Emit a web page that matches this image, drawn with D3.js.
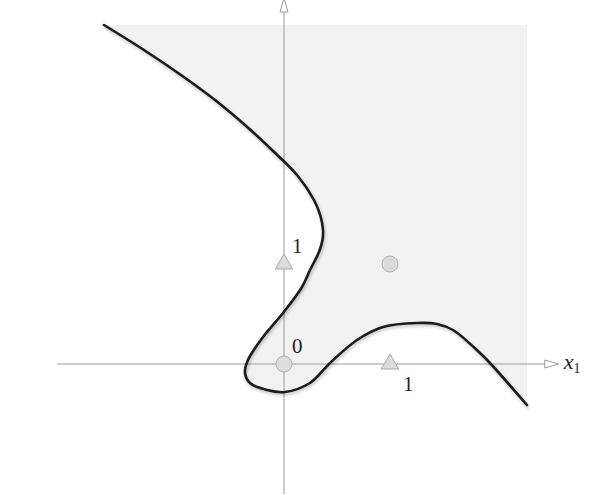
<!DOCTYPE html>
<html>
<head>
<meta charset="utf-8">
<script src="https://cdn.jsdelivr.net/npm/d3@7"></script>
<style>
html,body{margin:0;padding:0;background:#fff;}
svg{display:block;}
</style>
</head>
<body>
<svg id="chart" width="605" height="495"></svg>
<script>
// Decision boundary (data coordinates x1, x2)
const boundaryX = [-1.698,-1.321,-0.972,-0.651,-0.368,-0.113,0.123,0.283,0.344,0.368,0.363,0.330,0.245,0.170,-0.009,-0.198,-0.340,-0.368,-0.321,-0.160,0.009,0.245,0.434,0.689,0.934,1.255,1.443,1.594,1.849,1.943,2.292];
const boundaryY = [3.39,3.14,2.89,2.64,2.39,2.14,1.89,1.64,1.48,1.34,1.24,1.12,0.94,0.77,0.51,0.27,0.04,-0.09,-0.19,-0.26,-0.28,-0.19,0.01,0.24,0.37,0.41,0.40,0.34,0.11,0.01,-0.41];
// Class 0 points (circles) and class 1 points (triangles)
const circleX = [0, 1];
const circleY = [0, 1];
const triangleX = [0, 1];
const triangleY = [1, 0];
// Tick labels
const tickLabels = [
  {text: "0", x: 0, y: 0, dx: 8, dy: -11},
  {text: "1", x: 0, y: 1, dx: 8, dy: -11},
  {text: "1", x: 1, y: 0, dx: 13, dy: 27}
];
// Region / axis extents
const regionTop = 3.39, regionRight = 2.292;
const xAxisExtent = [-2.14, 2.46];
const yAxisExtent = [-1.30, 3.52];

const svg = d3.select("#chart");
const x = d3.scaleLinear().domain([0, 1]).range([284, 390]);
const y = d3.scaleLinear().domain([0, 1]).range([364, 264]);

const defs = svg.append("defs");
const f = defs.append("filter").attr("id","shadow").attr("x","-20%").attr("y","-20%").attr("width","140%").attr("height","140%");
f.append("feDropShadow").attr("dx",1).attr("dy",2).attr("stdDeviation",1.5).attr("flood-color","#000").attr("flood-opacity",0.25);

const pts = boundaryX.map((v,i)=>[v, boundaryY[i]]);
const line = d3.line().x(d=>x(d[0])).y(d=>y(d[1])).curve(d3.curveCatmullRom.alpha(0.5));

// Shaded region: boundary + top-right corner
const regionPath = line(pts) + `L${x(regionRight)},${y(regionTop)}Z`;
svg.append("path").attr("d", regionPath).attr("fill", "#f2f2f2").attr("stroke","none");

// Axes
const axisColor = "#9a9a9a";
svg.append("line").attr("x1", x(xAxisExtent[0])).attr("x2", x(xAxisExtent[1]))
  .attr("y1", y(0)).attr("y2", y(0)).attr("stroke", axisColor).attr("stroke-width", 1);
svg.append("line").attr("x1", x(0)).attr("x2", x(0))
  .attr("y1", y(yAxisExtent[0])).attr("y2", y(yAxisExtent[1])).attr("stroke", axisColor).attr("stroke-width", 1);
// arrowheads
const ax = x(xAxisExtent[1]), ay = y(0);
svg.append("path").attr("d", `M${ax},${ay-4}L${ax+14},${ay}L${ax},${ay+4}Z`)
  .attr("fill","#fff").attr("stroke",axisColor).attr("stroke-width",1);
const bx = x(0), by = y(yAxisExtent[1]);
svg.append("path").attr("d", `M${bx-4},${by}L${bx},${by-14}L${bx+4},${by}Z`)
  .attr("fill","#fff").attr("stroke",axisColor).attr("stroke-width",1);

// Boundary curve
svg.append("path").attr("d", line(pts)).attr("fill","none")
  .attr("stroke","#1a1a1a").attr("stroke-width",2.6).attr("stroke-linecap","round")
  .attr("filter","url(#shadow)");

// Points
svg.selectAll("circle.pt").data(circleX.map((v,i)=>[v,circleY[i]])).enter()
  .append("circle").attr("class","pt")
  .attr("cx", d=>x(d[0])).attr("cy", d=>y(d[1])).attr("r", 8)
  .attr("fill","#dcdcdc").attr("stroke","#b0b0b0").attr("stroke-width",1);
const tri = d3.symbol().type(d3.symbolTriangle).size(130);
svg.selectAll("path.tri").data(triangleX.map((v,i)=>[v,triangleY[i]])).enter()
  .append("path").attr("class","tri")
  .attr("d", tri).attr("transform", d=>`translate(${x(d[0])},${y(d[1])})`)
  .attr("fill","#dcdcdc").attr("stroke","#a8a8a8").attr("stroke-width",1);

// Tick labels
svg.selectAll("text.tick").data(tickLabels).enter().append("text").attr("class","tick")
  .attr("x", d=>x(d.x)+d.dx).attr("y", d=>y(d.y)+d.dy)
  .attr("font-family","'Liberation Serif', 'DejaVu Serif', serif").attr("font-size",21)
  .attr("fill","#222").text(d=>d.text);

// Axis label x1
const lab = svg.append("text").attr("x", ax + 19).attr("y", ay + 5)
  .attr("font-family","'Liberation Serif', 'DejaVu Serif', serif").attr("font-size",22).attr("fill","#222");
lab.append("tspan").attr("font-style","italic").text("x");
lab.append("tspan").attr("font-size",14).attr("dy",4).text("1");
</script>
</body>
</html>
